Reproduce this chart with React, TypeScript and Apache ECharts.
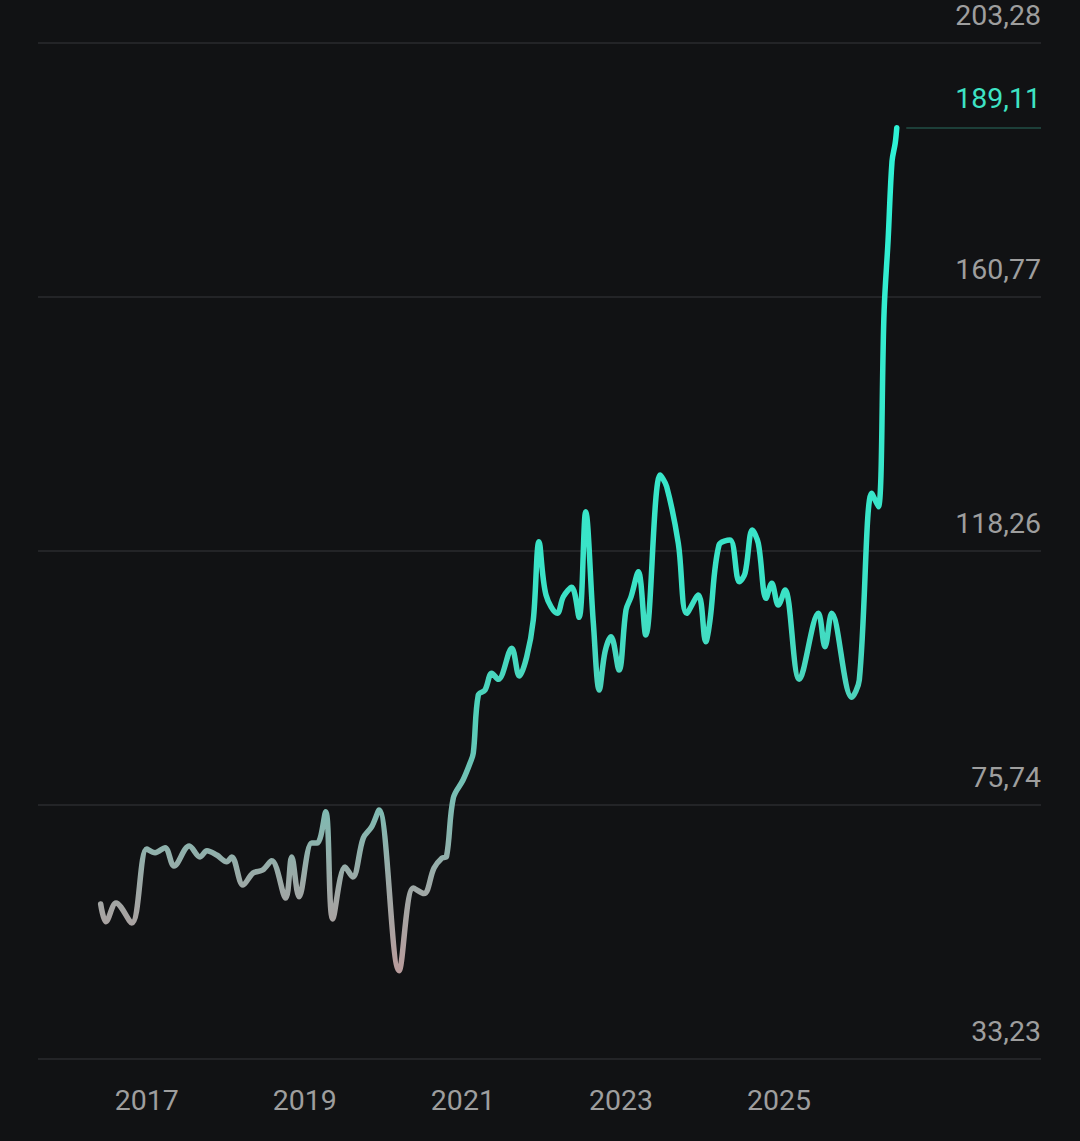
import React, { useEffect, useRef } from "react";
import * as echarts from "echarts";

// Decimal years of the sampled points
const years: number[] = [
  2016.417, 2016.484, 2016.611, 2016.81, 2017.0, 2017.105, 2017.231, 2017.345, 2017.538, 2017.674,
  2017.762, 2017.885, 2018.012, 2018.075, 2018.218, 2018.345, 2018.467, 2018.581, 2018.758, 2018.834,
  2018.927, 2019.087, 2019.158, 2019.264, 2019.353, 2019.509, 2019.606, 2019.74, 2019.847, 2019.939,
  2020.192, 2020.373, 2020.508, 2020.635, 2020.736, 2020.793, 2020.879, 2021.002, 2021.09, 2021.132,
  2021.195, 2021.28, 2021.365, 2021.448, 2021.618, 2021.714, 2021.808, 2021.891, 2021.963, 2022.052,
  2022.195, 2022.271, 2022.377, 2022.47, 2022.554, 2022.651, 2022.726, 2022.799, 2022.875, 2022.976,
  2023.064, 2023.128, 2023.22, 2023.314, 2023.495, 2023.579, 2023.726, 2023.832, 2023.979, 2024.073,
  2024.127, 2024.241, 2024.38, 2024.498, 2024.57, 2024.662, 2024.738, 2024.836, 2024.908, 2024.991,
  2025.076, 2025.257, 2025.498, 2025.582, 2025.667, 2025.92, 2026.016, 2026.173, 2026.257, 2026.33,
  2026.38, 2026.43, 2026.47, 2026.49,
];

// Price values
const prices: number[] = [
  59.17, 56.21, 59.34, 55.99, 68.38, 67.76, 68.59, 65.53, 68.88, 67.04,
  68.09, 67.37, 66.25, 67.04, 62.35, 64.36, 64.86, 66.42, 60.18, 67.04,
  60.39, 69.38, 69.38, 74.62, 56.66, 65.36, 63.69, 70.22, 72.11, 74.9,
  48.01, 61.85, 60.93, 65.2, 66.87, 67.12, 76.91, 79.92, 82.72, 84.44,
  94.15, 94.99, 97.78, 96.78, 101.97, 97.33, 100.56, 106.7, 119.81, 110.89,
  107.82, 110.6, 112.18, 107.15, 124.83, 106.15, 94.99, 101.4, 103.91, 98.33,
  108.38, 110.6, 114.79, 104.19, 130.97, 129.01, 119.54, 107.82, 110.89, 103.07,
  106.7, 119.26, 120.09, 113.11, 114.52, 121.77, 119.54, 110.33, 112.85, 109.21,
  111.72, 96.78, 107.82, 102.23, 107.82, 93.77, 96.66, 127.91, 125.66, 158.5,
  170.2, 183.5, 186.5, 189.11,
];

const xTickYears: number[] = [2017, 2019, 2021, 2023, 2025];
const yTickValues: number[] = [33.23, 75.74, 118.26, 160.77, 203.28];
const yTickLabels: string[] = ["33,23", "75,74", "118,26", "160,77", "203,28"];

const X_MIN = 2015.624;
const X_MAX = 2028.315;

const fmt = (v: number) => v.toFixed(2).replace(".", ",");

export default function App() {
  const ref = useRef<HTMLDivElement>(null);

  useEffect(() => {
    if (!ref.current) return;
    const chart = echarts.init(ref.current, null, { renderer: "svg" });
    const data = years.map((y, i) => [y, prices[i]]);
    const lastYear = years[years.length - 1];
    const lastPrice = prices[prices.length - 1];
    const yMin = yTickValues[0];
    const yMax = yTickValues[yTickValues.length - 1];

    chart.setOption({
      animation: false,
      backgroundColor: "#111214",
      textStyle: { fontFamily: "Roboto" },
      grid: {
        left: 38,
        right: 39,
        top: 43,
        bottom: 82,
        containLabel: false,
        outerBoundsMode: "none",
      },
      xAxis: {
        type: "value",
        min: X_MIN,
        max: X_MAX,
        axisLine: { show: false },
        axisTick: { show: false },
        splitLine: { show: false },
        axisLabel: {
          customValues: xTickYears,
          formatter: (v: number) => String(Math.round(v)),
          color: "#9e9e9e",
          fontSize: 28.5,
          fontFamily: "Roboto",
          margin: 27,
        },
      },
      yAxis: {
        type: "value",
        position: "right",
        min: yMin,
        max: yMax,
        interval: (yMax - yMin) / 4,
        axisLine: { show: false },
        axisTick: { show: false },
        splitLine: { show: true, lineStyle: { color: "#232427", width: 2 } },
        axisLabel: {
          inside: true,
          align: "right",
          verticalAlign: "bottom",
          margin: 0,
          lineHeight: 22,
          padding: [0, 0, 17, 0],
          color: "#9e9e9e",
          fontSize: 28.5,
          fontFamily: "Roboto",
          formatter: (v: number) => {
            let best = 0;
            for (let i = 1; i < yTickValues.length; i++) {
              if (Math.abs(yTickValues[i] - v) < Math.abs(yTickValues[best] - v)) best = i;
            }
            return yTickLabels[best];
          },
        },
      },
      series: [
        {
          type: "line",
          data,
          smooth: 0.35,
          showSymbol: false,
          symbol: "none",
          lineStyle: {
            width: 5.5,
            cap: "round",
            join: "round",
            color: new echarts.graphic.LinearGradient(0, 0, 0, 1, [
              { offset: 0, color: "#2ef2d6" },
              { offset: 0.55, color: "#3be2c6" },
              { offset: 0.68, color: "#4dd2bb" },
              { offset: 0.8, color: "#7cbcb3" },
              { offset: 0.9, color: "#9ea8a6" },
              { offset: 1, color: "#b89c9c" },
            ]),
          },
          markLine: {
            silent: true,
            symbol: "none",
            lineStyle: { color: "#1d3f39", width: 2, type: "solid" },
            label: {
              show: true,
              position: "insideEndTop",
              formatter: fmt(lastPrice),
              color: "#3ee3c4",
              fontSize: 28.5,
              fontFamily: "Roboto",
              distance: [0, 15],
            },
            data: [
              [
                { coord: [lastYear + 0.12, lastPrice] },
                { coord: [X_MAX, lastPrice] },
              ],
            ],
          },
        },
      ],
    });

    return () => chart.dispose();
  }, []);

  return (
    <div
      ref={ref}
      style={{ position: "fixed", left: 0, top: 0, width: 1080, height: 1141 }}
    />
  );
}
